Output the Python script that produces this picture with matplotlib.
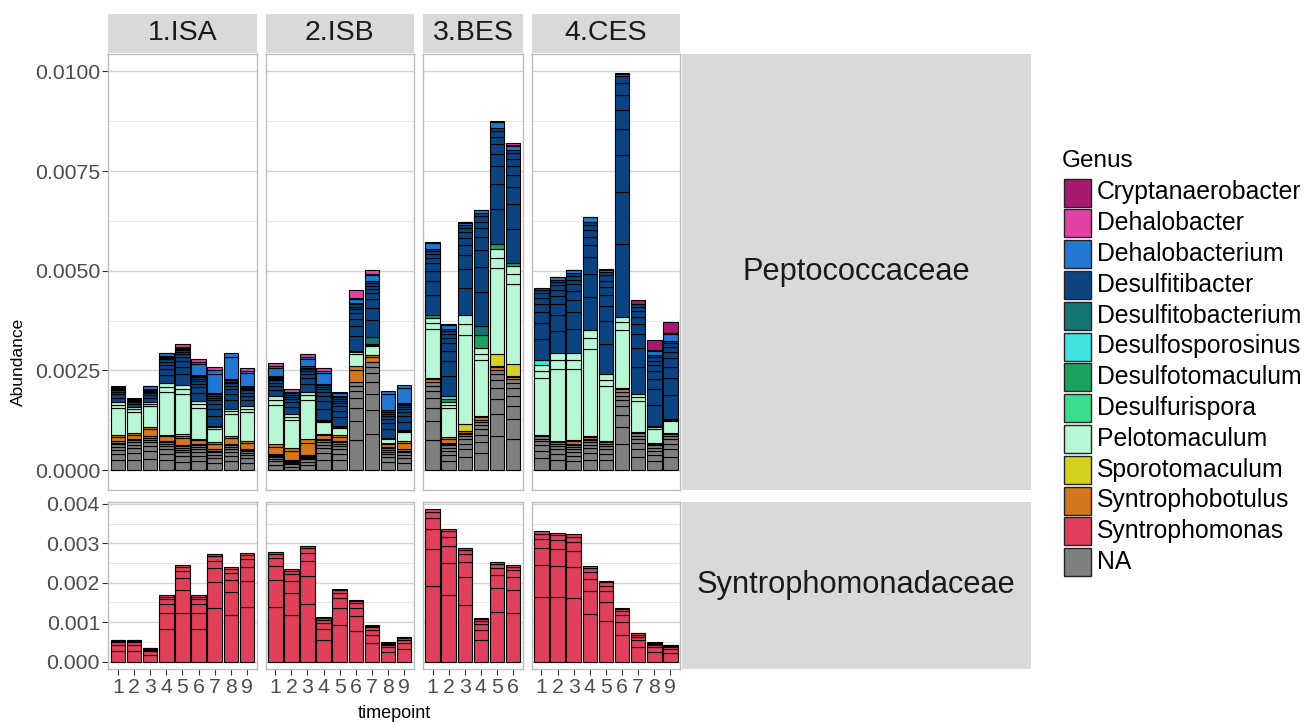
import numpy as np
import matplotlib.pyplot as plt
from matplotlib.patches import Rectangle

plt.rcParams['font.family'] = ['Liberation Sans', 'DejaVu Sans']

W, H = 1309, 726

sites = ['1.ISA', '2.ISB', '3.BES', '4.CES']
n_tp = [9, 9, 6, 9]
families = ['Peptococcaceae', 'Syntrophomonadaceae']

genera = ['Cryptanaerobacter', 'Dehalobacter', 'Dehalobacterium', 'Desulfitibacter',
          'Desulfitobacterium', 'Desulfosporosinus', 'Desulfotomaculum', 'Desulfurispora',
          'Pelotomaculum', 'Sporotomaculum', 'Syntrophobotulus', 'Syntrophomonas', 'NA']
genus_colors = ['#A6196F', '#E042A6', '#2177D2', '#0C4481',
                '#137672', '#40E3E0', '#1BA25E', '#3DDD8E',
                '#B8F7D4', '#D4D21F', '#D4761F', '#E1405C', '#7F7F7F']

# abundance in units of 1e-3
# bars: ISA 1-9 | ISB 1-9 | BES 1-6 | CES 1-9
na = [0.72, 0.78, 0.85, 0.73, 0.63, 0.65, 0.54, 0.65, 0.53,
      0.40, 0.26, 0.38, 0.78, 0.73, 2.20, 2.70, 0.57, 0.54,
      2.20, 0.69, 0.94, 1.25, 2.50, 2.28,
      0.88, 0.73, 0.65, 0.78, 0.73, 1.95, 0.96, 0.69, 0.94]
syntrophobotulus = [0.16, 0.14, 0.24, 0.16, 0.22, 0.13, 0.17, 0.21, 0.19,
                    0.25, 0.29, 0.40, 0.12, 0.15, 0.40, 0.18, 0.12, 0.20,
                    0.12, 0.13, 0.05, 0.12, 0.12, 0.08,
                    0, 0, 0.11, 0.08, 0, 0.10, 0, 0, 0]
sporotomaculum = [0, 0, 0, 0, 0.06, 0, 0, 0, 0,
                  0, 0, 0, 0, 0, 0, 0, 0, 0,
                  0, 0, 0.16, 0, 0.29, 0.29,
                  0, 0, 0, 0, 0, 0, 0, 0, 0]
pelotomaculum = [0.82, 0.67, 0.62, 1.30, 1.22, 0.96, 0.40, 0.67, 0.89,
                 1.21, 0.86, 1.19, 0.37, 0.23, 0.39, 0.29, 0.12, 0.27,
                 1.50, 0.89, 2.73, 1.69, 2.63, 2.46,
                 1.75, 2.21, 2.17, 2.66, 1.67, 1.80, 0.94, 0.42, 0.35]
desulfurispora = [0] * 33
desulfotomaculum = [0, 0, 0, 0, 0, 0, 0, 0, 0,
                    0, 0, 0, 0, 0, 0, 0, 0, 0,
                    0.06, 0.07, 0, 0.33, 0.12, 0.08,
                    0, 0, 0, 0, 0, 0, 0, 0, 0]
desulfosporosinus = [0, 0, 0, 0, 0, 0, 0, 0, 0,
                     0, 0, 0, 0, 0, 0, 0, 0, 0,
                     0, 0.07, 0, 0, 0, 0,
                     0.12, 0, 0, 0, 0, 0, 0, 0, 0]
desulfitobacterium = [0, 0, 0, 0, 0, 0, 0, 0, 0,
                      0, 0, 0, 0, 0, 0, 0.18, 0, 0,
                      0, 0, 0, 0.23, 0, 0,
                      0, 0, 0, 0, 0, 0, 0, 0, 0]
desulfitibacter = [0.40, 0.21, 0.33, 0.68, 0.90, 0.64, 0.82, 0.75, 0.50,
                   0.50, 0.56, 0.65, 0.89, 0.74, 1.21, 1.39, 0.71, 0.68,
                   1.67, 1.70, 2.26, 2.84, 2.92, 2.84,
                   1.83, 1.84, 2.01, 2.71, 2.56, 6.03, 2.26, 1.77, 1.95]
dehalobacterium = [0, 0, 0.08, 0.07, 0.05, 0.33, 0.58, 0.67, 0.38,
                   0.24, 0, 0.21, 0.33, 0.10, 0.12, 0.19, 0.46, 0.44,
                   0.17, 0.11, 0.07, 0.06, 0.17, 0.12,
                   0, 0.07, 0.08, 0.13, 0.08, 0.07, 0, 0.13, 0.21]
dehalobacter = [0, 0, 0, 0, 0.08, 0.07, 0.08, 0, 0.07,
                0.08, 0.06, 0.08, 0.06, 0, 0.19, 0.08, 0, 0,
                0, 0, 0, 0, 0, 0.06,
                0, 0, 0, 0, 0, 0, 0, 0, 0]
cryptanaerobacter = [0, 0, 0, 0, 0, 0, 0, 0, 0,
                     0, 0, 0, 0, 0, 0, 0, 0, 0,
                     0, 0, 0, 0, 0, 0,
                     0, 0, 0, 0, 0, 0, 0.11, 0.25, 0.27]
syntrophomonas = [0.56, 0.56, 0.35, 1.68, 2.45, 1.68, 2.72, 2.39, 2.76,
                  2.79, 2.35, 2.93, 1.12, 1.85, 1.57, 0.93, 0.49, 0.63,
                  3.86, 3.37, 2.89, 1.10, 2.53, 2.46,
                  3.30, 3.27, 3.23, 2.42, 2.05, 1.37, 0.73, 0.49, 0.43]

# rough split of each genus into its OTUs (the black lines inside the bars)
otu_shares = {
    'NA': [0.34, 0.22, 0.15, 0.11, 0.08, 0.06, 0.04],
    'Syntrophomonas': [0.5, 0.24, 0.13, 0.07, 0.04, 0.02],
    'Syntrophobotulus': [0.75, 0.25],
    'Pelotomaculum': [0.82, 0.1, 0.08],
    'Desulfitibacter': [0.3, 0.22, 0.15, 0.11, 0.08, 0.06, 0.05, 0.03],
    'Dehalobacterium': [0.85, 0.15],
}

# bottom to top stacking
pep_stack = [('NA', na), ('Syntrophobotulus', syntrophobotulus),
             ('Sporotomaculum', sporotomaculum), ('Pelotomaculum', pelotomaculum),
             ('Desulfurispora', desulfurispora), ('Desulfotomaculum', desulfotomaculum),
             ('Desulfosporosinus', desulfosporosinus), ('Desulfitobacterium', desulfitobacterium),
             ('Desulfitibacter', desulfitibacter), ('Dehalobacterium', dehalobacterium),
             ('Dehalobacter', dehalobacter), ('Cryptanaerobacter', cryptanaerobacter)]
syn_stack = [('Syntrophomonas', syntrophomonas)]
color_of = dict(zip(genera, genus_colors))
scale = 1e-3


def rect(x0, y0, x1, y1):
    return [x0 / W, 1 - y1 / H, (x1 - x0) / W, (y1 - y0) / H]


fig = plt.figure(figsize=(W / 100, H / 100), dpi=100)
overlay = fig.add_axes([0, 0, 1, 1])
overlay.set_xlim(0, W)
overlay.set_ylim(H, 0)
overlay.axis('off')

# panel geometry (pixels)
row_y = [(53.5, 490), (501.7, 669.3)]
x_left, x_right, gap = 108.3, 680.1, 9
u = (x_right - x_left - gap * (len(sites) - 1)) / sum(n + 0.2 for n in n_tp)
col_x = []
xx = x_left
for n in n_tp:
    col_x.append((xx, xx + u * (n + 0.2)))
    xx += u * (n + 0.2) + gap

starts = np.cumsum([0] + n_tp)
row_ticks = [np.arange(0, 0.0101, 0.0025), np.arange(0, 0.00401, 0.001)]
row_fmt = ['{:.4f}', '{:.3f}']

for r, stack in enumerate([pep_stack, syn_stack]):
    totals = np.sum([np.array(v) for _, v in stack], axis=0) * scale
    ymax = totals.max()
    for c, site in enumerate(sites):
        x0, x1 = col_x[c]
        ax = fig.add_axes(rect(x0, row_y[r][0], x1, row_y[r][1]))
        n = n_tp[c]
        xs = np.arange(1, n + 1)
        bottom = np.zeros(n)
        for genus, vals in stack:
            v = np.array(vals[starts[c]:starts[c + 1]]) * scale
            for share in otu_shares.get(genus, [1.0]):
                h = v * share
                m = h > 0
                ax.bar(xs[m], h[m], bottom=bottom[m], width=0.9,
                       color=color_of[genus], edgecolor='black', linewidth=0.8, zorder=3)
                bottom += h
        ax.set_xlim(0.4, n + 0.6)
        ax.set_ylim(-0.05 * ymax, ymax * 1.05)
        ax.set_yticks(row_ticks[r])
        t = row_ticks[r]
        ax.set_yticks((t[:-1] + t[1:]) / 2, minor=True)
        ax.grid(which='major', axis='y', color='#D3D3D3', linewidth=1.0, zorder=0)
        ax.grid(which='minor', axis='y', color='#E6E6E6', linewidth=0.7, zorder=0)
        ax.set_axisbelow(True)
        for s in ax.spines.values():
            s.set_color('#BDBDBD')
            s.set_linewidth(1.0)
        ax.tick_params(which='minor', length=0)
        ax.tick_params(which='major', color='#333333', length=4, width=0.8,
                       labelcolor='#4D4D4D', labelsize=15.3, pad=2)
        if c == 0:
            ax.set_yticklabels([row_fmt[r].format(v) for v in row_ticks[r]])
        else:
            ax.tick_params(axis='y', length=0, labelleft=False)
        ax.set_xticks(xs)
        if r == 1:
            ax.set_xticklabels([str(i) for i in xs])
        else:
            ax.tick_params(axis='x', length=0, labelbottom=False)

# strips
for c, site in enumerate(sites):
    x0, x1 = col_x[c]
    overlay.add_patch(Rectangle((x0, 14), x1 - x0, 38.5, facecolor='#D9D9D9', edgecolor='none'))
    overlay.text((x0 + x1) / 2, 33.5, site, ha='center', va='center', fontsize=20.5, color='#1A1A1A')
for r, fam in enumerate(families):
    y0, y1 = row_y[r]
    overlay.add_patch(Rectangle((681.5, y0), 349.5, y1 - y0, facecolor='#D9D9D9', edgecolor='none'))
    overlay.text(856, (y0 + y1) / 2, fam, ha='center', va='center', fontsize=22.2, color='#1A1A1A')

# axis titles
overlay.text(18, (row_y[0][0] + row_y[1][1]) / 2, 'Abundance', rotation=90,
             ha='center', va='center', fontsize=12.5, color='black')
overlay.text((x_left + x_right) / 2, 714, 'timepoint', ha='center', va='center',
             fontsize=13, color='black')

# legend
overlay.text(1062, 161, 'Genus', ha='left', va='center', fontsize=17.5, color='black')
for i, (g, col) in enumerate(zip(genera, genus_colors)):
    ky = 178.5 + i * 30.8
    overlay.add_patch(Rectangle((1063.5, ky), 27.5, 28, facecolor=col,
                                edgecolor='#222222', linewidth=1.0))
    overlay.text(1097, ky + 14, g, ha='left', va='center', fontsize=17.8, color='black')

fig.savefig('out.png', dpi=100)
